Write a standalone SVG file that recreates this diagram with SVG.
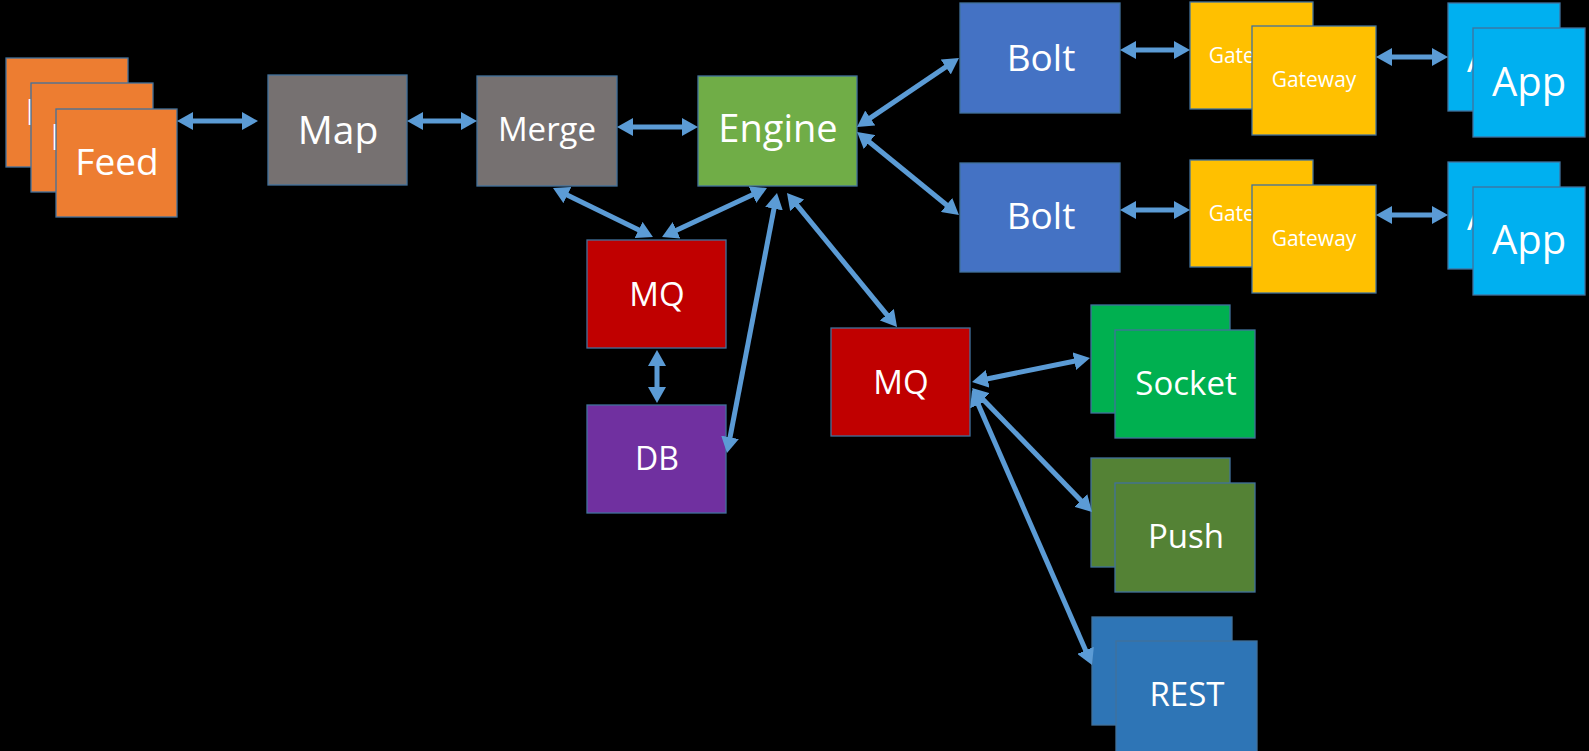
<svg xmlns="http://www.w3.org/2000/svg" width="1589" height="751" viewBox="0 0 1589 751">
<defs>
<marker id="ah" markerUnits="userSpaceOnUse" markerWidth="17" markerHeight="18" refX="6" refY="9" orient="auto-start-reverse">
<path d="M0,0 L16,9 L0,18 z" fill="#5B9BD5"/>
</marker>
</defs>
<style>
.b{stroke:#41719C;stroke-width:1.3}
.t{font-family:"Open Sans","Noto Sans","Liberation Sans",sans-serif;fill:#FFFFFF;text-anchor:middle}
.c line{stroke:#5B9BD5;stroke-width:5;marker-start:url(#ah);marker-end:url(#ah)}
.feed{fill:#ED7D31}.gray{fill:#767171}.eng{fill:#70AD47}.bolt{fill:#4472C4}.gw{fill:#FFC000}.app{fill:#00B0F0}
.mq{fill:#C00000}.db{fill:#7030A0}.sock{fill:#00B050}.push{fill:#548235}.rest{fill:#2E75B6}
</style>
<rect width="1589" height="751" fill="#000000"/>
<g id="feed1"><rect class="b feed" x="6" y="58" width="122" height="109"/><text class="t" x="67" y="125" font-size="37">Feed</text></g>
<g id="feed2"><rect class="b feed" x="31" y="83" width="122" height="109"/><text class="t" x="92" y="150" font-size="37">Feed</text></g>
<g id="feed3"><rect class="b feed" x="56" y="109" width="121" height="108"/><text class="t" x="117" y="175" font-size="37">Feed</text></g>
<g id="map"><rect class="b gray" x="268" y="75" width="139" height="110"/><text class="t" x="338" y="144" font-size="39">Map</text></g>
<g id="merge"><rect class="b gray" x="477" y="76" width="140" height="110"/><text class="t" x="547" y="141" font-size="33">Merge</text></g>
<g id="engine"><rect class="b eng" x="698" y="76" width="159" height="110"/><text class="t" x="778" y="142" font-size="38">Engine</text></g>
<g id="bolt1"><rect class="b bolt" x="960" y="3" width="160" height="110"/><text class="t" x="1041" y="71" font-size="37">Bolt</text></g>
<g id="bolt2"><rect class="b bolt" x="960" y="163" width="160" height="109"/><text class="t" x="1041" y="229" font-size="37">Bolt</text></g>
<g id="gateway1a"><rect class="b gw" x="1190" y="2" width="123" height="107"/><text class="t" x="1251" y="63" font-size="21">Gateway</text></g>
<g id="gateway1b"><rect class="b gw" x="1252" y="26" width="124" height="109"/><text class="t" x="1314" y="87" font-size="21">Gateway</text></g>
<g id="gateway2a"><rect class="b gw" x="1190" y="160" width="123" height="107"/><text class="t" x="1251" y="221" font-size="21">Gateway</text></g>
<g id="gateway2b"><rect class="b gw" x="1252" y="185" width="124" height="108"/><text class="t" x="1314" y="246" font-size="21">Gateway</text></g>
<g id="app1a"><rect class="b app" x="1448" y="3" width="112" height="108"/><text class="t" x="1504" y="72" font-size="40">App</text></g>
<g id="app1b"><rect class="b app" x="1473" y="28" width="112" height="109"/><text class="t" x="1529" y="96" font-size="40">App</text></g>
<g id="app2a"><rect class="b app" x="1448" y="162" width="112" height="107"/><text class="t" x="1504" y="230" font-size="40">App</text></g>
<g id="app2b"><rect class="b app" x="1473" y="187" width="112" height="108"/><text class="t" x="1529" y="254" font-size="40">App</text></g>
<g id="mq1"><rect class="b mq" x="587" y="240" width="139" height="108"/><text class="t" x="657" y="306" font-size="33">MQ</text></g>
<g id="db"><rect class="b db" x="587" y="405" width="139" height="108"/><text class="t" x="657" y="470" font-size="32">DB</text></g>
<g id="mq2"><rect class="b mq" x="831" y="328" width="139" height="108"/><text class="t" x="901" y="394" font-size="33">MQ</text></g>
<g id="socket1"><rect class="b sock" x="1091" y="305" width="139" height="108"/></g>
<g id="socket2"><rect class="b sock" x="1115" y="330" width="140" height="108"/><text class="t" x="1186" y="395" font-size="33">Socket</text></g>
<g id="push1"><rect class="b push" x="1091" y="458" width="139" height="109"/></g>
<g id="push2"><rect class="b push" x="1115" y="483" width="140" height="109"/><text class="t" x="1186" y="548" font-size="33">Push</text></g>
<g id="rest1"><rect class="b rest" x="1092" y="617" width="140" height="108"/></g>
<g id="rest2"><rect class="b rest" x="1116" y="641" width="141" height="112"/><text class="t" x="1187" y="706" font-size="33">REST</text></g>
<g id="connectors" class="c">
<line x1="187" y1="121" x2="248" y2="121"/>
<line x1="417" y1="121" x2="467" y2="121"/>
<line x1="627" y1="127" x2="688" y2="127"/>
<line x1="562" y1="192.4" x2="644" y2="232.6"/>
<line x1="757.9" y1="192.2" x2="671.1" y2="232.8"/>
<line x1="775.1" y1="202.8" x2="728.9" y2="443.2"/>
<line x1="793.3" y1="200.7" x2="890.7" y2="319.3"/>
<line x1="865.3" y1="121.4" x2="950.7" y2="63.6"/>
<line x1="864.8" y1="138.3" x2="951.2" y2="208.7"/>
<line x1="1130" y1="50" x2="1180" y2="50"/>
<line x1="1386" y1="57" x2="1438" y2="57"/>
<line x1="1130" y1="210" x2="1180" y2="210"/>
<line x1="1386" y1="215" x2="1438" y2="215"/>
<line x1="657" y1="360" x2="657" y2="393"/>
<line x1="981.8" y1="380" x2="1080.2" y2="360"/>
<line x1="979" y1="395.2" x2="1085" y2="504.8"/>
<line x1="976" y1="399.2" x2="1088" y2="655.8"/>
</g>
</svg>
